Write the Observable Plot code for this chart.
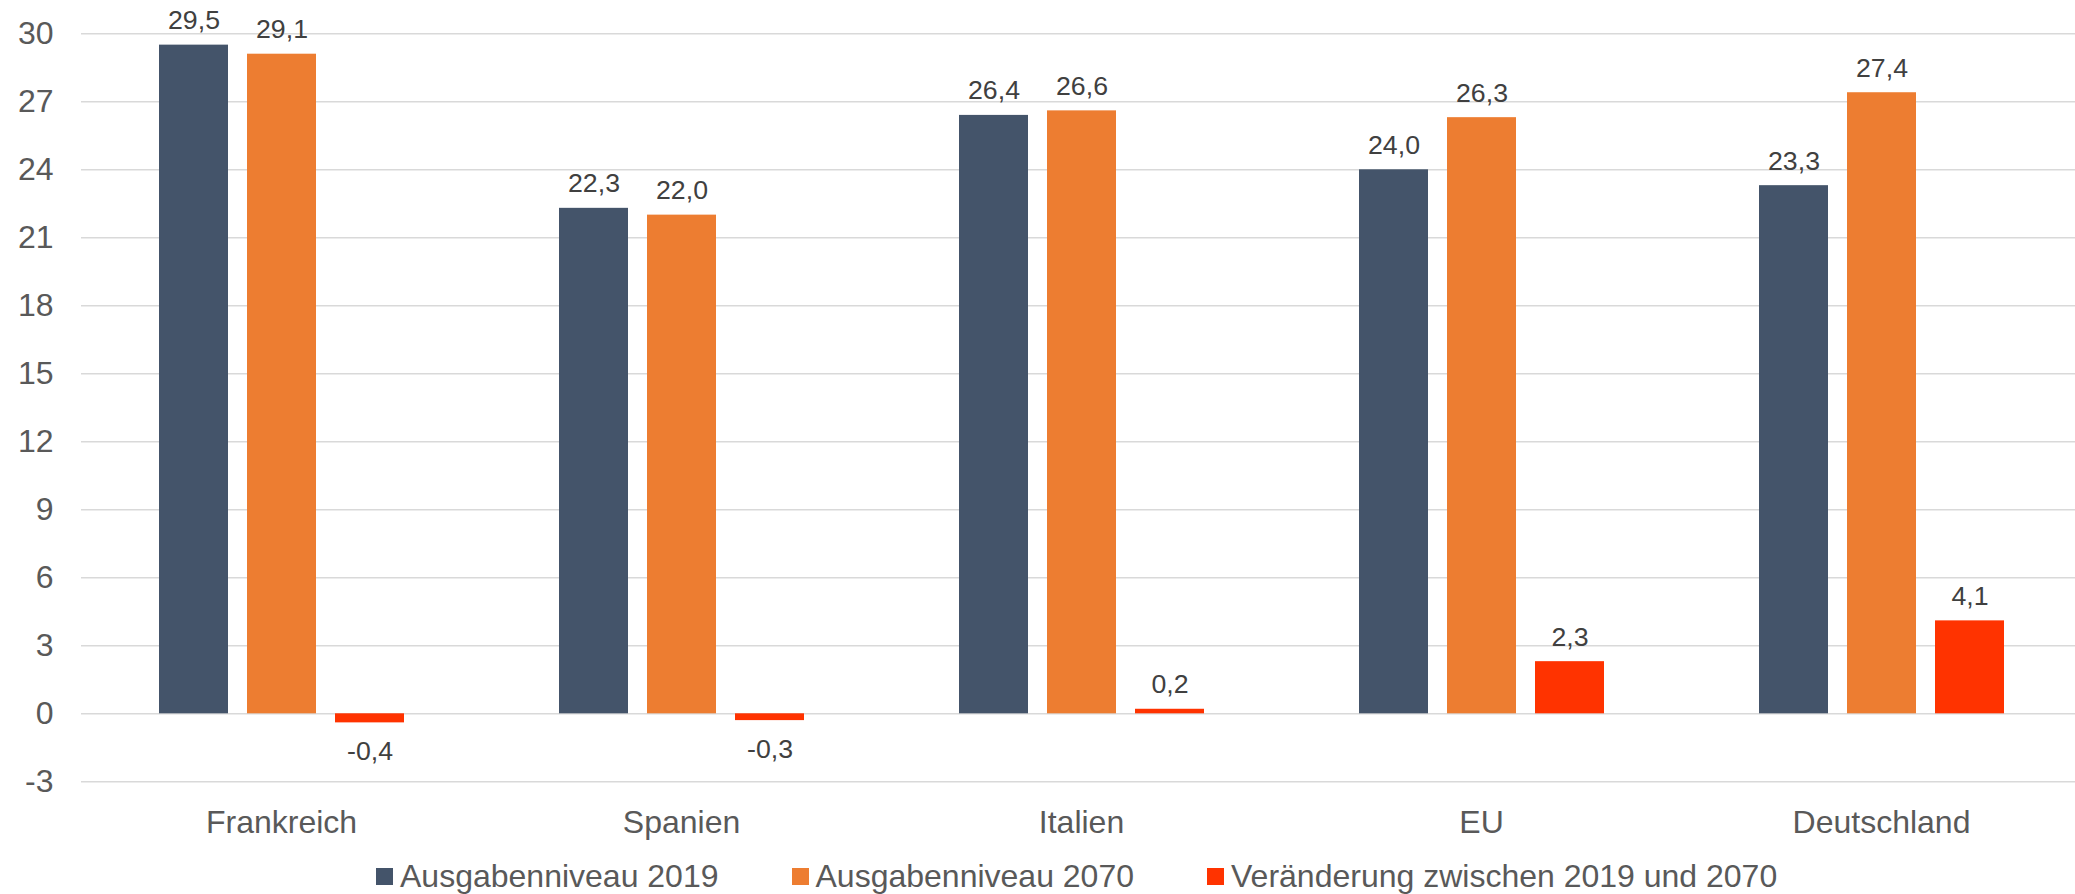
<!DOCTYPE html>
<html>
<head>
<meta charset="utf-8">
<script src="https://cdn.jsdelivr.net/npm/d3@7"></script>
<script src="https://cdn.jsdelivr.net/npm/@observablehq/plot@0.6"></script>
<style>
  html, body { margin: 0; padding: 0; background: #fff; overflow: hidden; }
  #wrap { position: relative; width: 2075px; height: 894px; font-family: "Liberation Sans", Arial, sans-serif; }
  #legend { position: absolute; left: 376px; top: 859px; height: 34px; display: flex; align-items: center; gap: 73px;
            font-size: 32px; line-height: 34px; color: #595959; white-space: nowrap; }
  .item { display: flex; align-items: center; }
  .sw { width: 17px; height: 17px; margin-right: 7px; display: inline-block; }
</style>
</head>
<body>
<div id="wrap">
  <div id="chart"></div>
  <div id="legend"></div>
</div>
<script>
const countries = ["Frankreich", "Spanien", "Italien", "EU", "Deutschland"];
const seriesNames = ["Ausgabenniveau 2019", "Ausgabenniveau 2070", "Veränderung zwischen 2019 und 2070"];
const level2019 = [29.5, 22.3, 26.4, 24.0, 23.3];
const level2070 = [29.1, 22.0, 26.6, 26.3, 27.4];
const change = [-0.4, -0.3, 0.2, 2.3, 4.1];
const yTicks = [-3, 0, 3, 6, 9, 12, 15, 18, 21, 24, 27, 30];
const colors = ["#44546A", "#ED7D31", "#FF3300"];

const seriesValues = [level2019, level2070, change];
const rows = [];
countries.forEach((c, i) => {
  seriesNames.forEach((s, j) => {
    rows.push({country: c, series: s, value: seriesValues[j][i]});
  });
});
const fmt = v => d3.format(".1f")(v).replace(".", ",").replace("−", "-");

const chart = Plot.plot({
  width: 2075,
  height: 850,
  marginLeft: 80,
  marginRight: -7,
  marginTop: 33.3,
  marginBottom: 68.7,
  style: {fontFamily: '"Liberation Sans", Arial, sans-serif', color: "#595959", background: "#fff", overflow: "visible"},
  fx: {domain: countries, padding: 0, label: null},
  x: {domain: seriesNames, axis: null, paddingInner: 0.216, paddingOuter: 0.87},
  y: {domain: [-3, 30], axis: null},
  color: {domain: seriesNames, range: colors},
  marks: [
    Plot.ruleY(yTicks, {stroke: "#d9d9d9", strokeWidth: 1.6}),
    Plot.barY(rows, {fx: "country", x: "series", y: "value", fill: "series"}),
    Plot.text(rows.filter(d => d.value >= 0), {fx: "country", x: "series", y: "value", text: d => fmt(d.value), dy: -24.5, fontSize: 26.7, fill: "#404040"}),
    Plot.text(rows.filter(d => d.value < 0), {fx: "country", x: "series", y: "value", text: d => fmt(d.value), dy: 28.5, fontSize: 26.7, fill: "#404040"}),
    Plot.axisY({ticks: yTicks, tickSize: 0, tickPadding: 28, fontSize: 32, tickFormat: d => String(d), label: null}),
    Plot.axisFx({anchor: "bottom", tickSize: 0, tickPadding: 28, fontSize: 32, label: null})
  ]
});
document.getElementById("chart").appendChild(chart);

const legend = document.getElementById("legend");
seriesNames.forEach((s, j) => {
  const item = document.createElement("div");
  item.className = "item";
  const sw = document.createElement("span");
  sw.className = "sw";
  sw.style.background = colors[j];
  const t = document.createElement("span");
  t.textContent = s;
  item.appendChild(sw);
  item.appendChild(t);
  legend.appendChild(item);
});
</script>
</body>
</html>
